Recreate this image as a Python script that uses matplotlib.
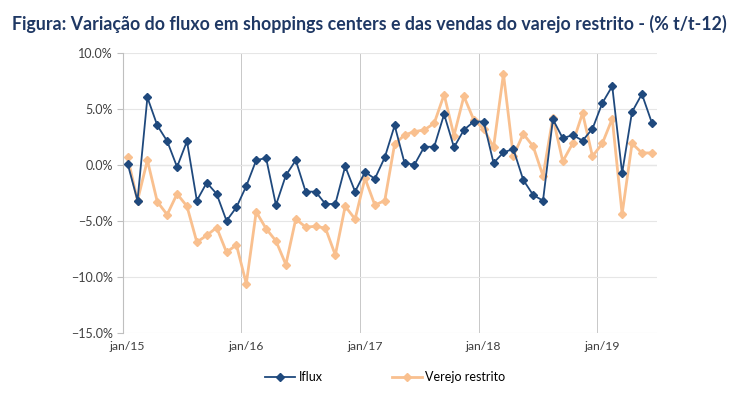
import numpy as np
import matplotlib
matplotlib.use('Agg')
import matplotlib.pyplot as plt
from matplotlib.ticker import PercentFormatter

# monthly, jan/15 .. jun/19
iflux = [0.1, -3.2, 6.0, 3.5, 2.1, -0.2, 2.1, -3.2, -1.6, -2.6, -5.0, -3.8,
         -1.9, 0.4, 0.6, -3.6, -0.95, 0.4, -2.4, -2.4, -3.5, -3.5, -0.15, -2.4,
         -0.65, -1.25, 0.65, 3.5, 0.15, 0.0, 1.6, 1.6, 4.5, 1.55, 3.1, 3.85,
         3.85, 0.15, 1.1, 1.4, -1.35, -2.7, -3.2, 4.05, 2.35, 2.65, 2.15, 3.2,
         5.5, 7.0, -0.75, 4.7, 6.3, 3.75]
varejo = [0.65, -3.2, 0.4, -3.3, -4.45, -2.6, -3.7, -6.9, -6.3, -5.6, -7.8, -7.15,
          -10.6, -4.2, -5.7, -6.8, -8.9, -4.85, -5.55, -5.5, -5.65, -8.05, -3.7, -4.85,
          -1.2, -3.6, -3.2, 1.85, 2.65, 2.95, 3.1, 3.7, 6.25, 2.6, 6.1, 4.0,
          3.2, 1.55, 8.1, 0.75, 2.75, 1.65, -1.0, 4.2, 0.3, 1.9, 4.6, 0.75,
          1.9, 4.1, -4.4, 1.9, 1.05, 1.05]
tick_labels = ['jan/15', 'jan/16', 'jan/17', 'jan/18', 'jan/19']

x = np.arange(len(iflux))

plt.rcParams['font.family'] = ['Lato', 'DejaVu Sans']
fig = plt.figure(figsize=(7.48, 3.95), dpi=100)
ax = fig.add_axes([0.164, 0.157, 0.714, 0.71])

ax.plot(x, varejo, color='#F9C08F', lw=2.0, marker='D', ms=4.5, label='Verejo restrito', zorder=3)
ax.plot(x, iflux, color='#1F497D', lw=1.3, marker='D', ms=4.5, label='Iflux', zorder=4)

ax.set_xlim(-0.5, len(iflux) - 0.5)
ax.set_ylim(-15, 10)
ax.set_yticks(np.arange(-15, 10.1, 5))
ax.yaxis.set_major_formatter(PercentFormatter(decimals=1))
ax.set_xticks(np.arange(0, len(iflux), 12))
ax.set_xticklabels(tick_labels)
ax.tick_params(axis='x', length=0, labelsize=8.8, colors='#404040', pad=6)
ax.tick_params(axis='y', length=4, color='#BFBFBF', labelsize=9, labelcolor='#404040', pad=3)

ax.grid(axis='y', color='#E6E6E6', lw=0.8, zorder=0)
for v in np.arange(-0.5, len(iflux), 12):
    ax.axvline(v, color='#C8C8C8', lw=0.7, zorder=1)
ax.axhline(0, color='#A6A6A6', lw=0.8, zorder=1)
for s in ['top', 'right', 'bottom']:
    ax.spines[s].set_visible(False)
ax.spines['left'].set_color('#BFBFBF')

fig.text(0.016, 0.925, 'Figura: Variação do fluxo em shoppings centers e das vendas do varejo restrito - (% t/t-12)',
         fontsize=12.8, fontweight='bold', color='#1F3864')

h, l = ax.get_legend_handles_labels()
fig.legend(h[::-1], l[::-1], loc='center', bbox_to_anchor=(0.515, 0.045), ncol=2, frameon=False,
           fontsize=9, columnspacing=5.5, handlelength=2.4, handletextpad=0.3)

plt.savefig('out.png', dpi=100)
